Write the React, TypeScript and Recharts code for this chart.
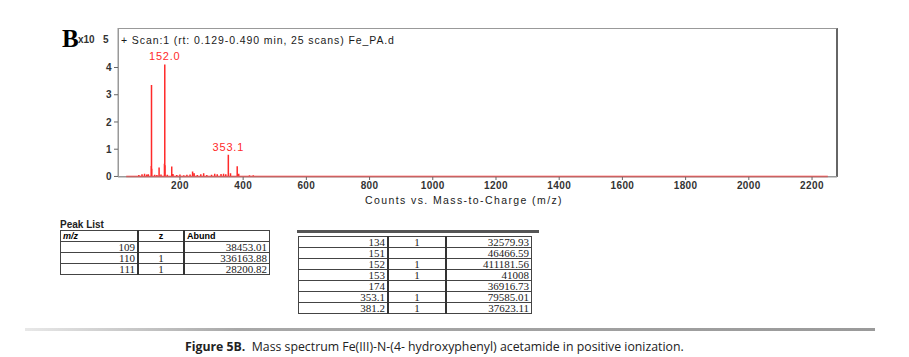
import { ComposedChart, Line, XAxis, YAxis, ReferenceDot } from 'recharts';

// peak positions (m/z) and abundances (x10^5 counts)
const peakMz = [60, 70, 80, 88, 95, 100, 109, 110, 111, 120, 127, 134, 140, 151, 152, 153, 160, 174, 178, 190, 200, 212, 222, 232, 240, 245, 255, 266, 275, 285, 300, 310, 318, 330, 338, 345, 353.1, 360, 381.2, 386, 420, 432, 445, 570, 690, 720];
const peakAbund = [0.03, 0.05, 0.08, 0.1, 0.07, 0.08, 0.3845, 3.3616, 0.282, 0.06, 0.05, 0.3258, 0.07, 0.4647, 4.1118, 0.4101, 0.06, 0.3692, 0.09, 0.05, 0.07, 0.04, 0.06, 0.07, 0.18, 0.12, 0.05, 0.08, 0.12, 0.05, 0.06, 0.1, 0.08, 0.09, 0.1, 0.08, 0.7959, 0.12, 0.3762, 0.1, 0.04, 0.04, 0.03, 0.03, 0.03, 0.02];
const mzEnd = 2250;

const labelledMz = [152, 353.1];
const labelledAbund = [4.1118, 0.7959];
const labelledText = ['152.0', '353.1'];

const xTicks = [200, 400, 600, 800, 1000, 1200, 1400, 1600, 1800, 2000, 2200];
const yTicks = [0, 1, 2, 3, 4];

const tableAMz = ['109', '110', '111'];
const tableAZ = ['', '1', '1'];
const tableAAbund = ['38453.01', '336163.88', '28200.82'];

const tableBMz = ['134', '151', '152', '153', '174', '353.1', '381.2'];
const tableBZ = ['1', '', '1', '1', '', '1', '1'];
const tableBAbund = ['32579.93', '46466.59', '411181.56', '41008', '36916.73', '79585.01', '37623.11'];

// stick spectrum: baseline -> peak top -> baseline for each peak
const stickData: { mz: number; ab: number }[] = [{ mz: 30, ab: 0 }];
peakMz.forEach((mz, i) => {
  stickData.push({ mz, ab: 0 });
  stickData.push({ mz, ab: peakAbund[i] });
  stickData.push({ mz, ab: 0 });
});
stickData.push({ mz: mzEnd, ab: 0 });

const RED = '#ff2a2a';
const SANS = 'Liberation Sans, Arial, sans-serif';
const tickStyle = { fontSize: 10, fill: '#333', fontWeight: 'bold' as const, fontFamily: SANS, letterSpacing: 0.4 };

const cell = (w: number, align: 'left' | 'right' | 'center', extra: any = {}) => ({
  width: w,
  textAlign: align,
  border: '1px solid #444',
  padding: '0 2px',
  lineHeight: '10px',
  height: 10,
  ...extra,
});

function PeakTable({ mz, z, ab, widths, header }: { mz: string[]; z: string[]; ab: string[]; widths: number[]; header: boolean }) {
  const numFont = { fontFamily: 'Liberation Serif, serif', fontSize: 11, color: '#222' };
  return (
    <table style={{ borderCollapse: 'collapse', border: '1.5px solid #444', tableLayout: 'fixed' }}>
      <tbody>
        {header && (
          <tr style={{ fontFamily: SANS, fontSize: 9, fontWeight: 'bold' }}>
            <td style={cell(widths[0], 'left', { fontStyle: 'italic', borderRight: '2px solid #333' })}>m/z</td>
            <td style={cell(widths[1], 'center', { borderRight: '2px solid #333' })}>z</td>
            <td style={cell(widths[2], 'left')}>Abund</td>
          </tr>
        )}
        {mz.map((m, i) => (
          <tr key={m} style={numFont}>
            <td style={cell(widths[0], 'right', { borderRight: '2px solid #333' })}>{m}</td>
            <td style={cell(widths[1], 'center', { borderRight: '2px solid #333' })}>{z[i]}</td>
            <td style={cell(widths[2], 'right')}>{ab[i]}</td>
          </tr>
        ))}
      </tbody>
    </table>
  );
}

export default function App() {
  return (
    <div style={{ position: 'absolute', left: 0, top: 0, width: 909, height: 357, background: '#fff', overflow: 'hidden' }}>
      {/* plot frame */}
      <div style={{ position: 'absolute', left: 118, top: 28, width: 717, height: 147, borderTop: '1px solid #999', borderLeft: '1px solid #999', borderRight: '2px solid #666', borderBottom: '1px solid #999' }} />
      <div style={{ position: 'absolute', left: 0, top: 0 }}>
        <ComposedChart width={909} height={215} data={stickData} margin={{ top: 28, right: 72, left: 88, bottom: 16 }}>
          <XAxis
            type="number"
            dataKey="mz"
            domain={[4, 2279]}
            ticks={xTicks}
            tick={tickStyle}
            tickSize={3}
            axisLine={{ stroke: '#999' }}
            tickLine={{ stroke: '#666' }}
            height={22}
          />
          <YAxis
            type="number"
            domain={[-0.02, 5.45]}
            ticks={yTicks}
            tick={tickStyle}
            tickSize={4}
            width={30}
            axisLine={{ stroke: '#999' }}
            tickLine={{ stroke: '#666' }}
          />
          <Line type="linear" dataKey="ab" stroke={RED} strokeWidth={1.5} dot={false} isAnimationActive={false} />
          {labelledMz.map((m, i) => (
            <ReferenceDot
              key={m}
              x={m}
              y={labelledAbund[i]}
              r={0}
              stroke="none"
              label={{ value: labelledText[i], position: 'top', offset: 4, fill: RED, fontSize: 11, fontFamily: SANS, letterSpacing: 0.8 }}
            />
          ))}
        </ComposedChart>
      </div>
      {/* scan title */}
      <div style={{ position: 'absolute', left: 121, top: 34, fontFamily: SANS, fontSize: 10.5, letterSpacing: 0.9, color: '#1a1a1a', whiteSpace: 'nowrap' }}>
        + Scan:1 (rt: 0.129-0.490 min, 25 scans) Fe_PA.d
      </div>
      {/* x10^5 */}
      <div style={{ position: 'absolute', left: 78, top: 34, fontFamily: SANS, fontSize: 10, fontWeight: 'bold', color: '#333' }}>
        x10
      </div>
      <div style={{ position: 'absolute', left: 103, top: 34, fontFamily: SANS, fontSize: 10, fontWeight: 'bold', color: '#333' }}>
        5
      </div>
      <div style={{ position: 'absolute', left: 62, top: 26, fontFamily: 'Liberation Serif, serif', fontSize: 25, fontWeight: 'bold', color: '#000', lineHeight: '26px' }}>
        B
      </div>
      {/* x axis title */}
      <div style={{ position: 'absolute', left: 365, top: 194, fontFamily: SANS, fontSize: 10.5, letterSpacing: 1.4, color: '#1a1a1a', whiteSpace: 'nowrap' }}>
        Counts vs. Mass-to-Charge (m/z)
      </div>
      {/* peak list tables */}
      <div style={{ position: 'absolute', left: 60, top: 219, fontFamily: SANS, fontSize: 10, fontWeight: 'bold', color: '#222' }}>
        Peak List
      </div>
      <div style={{ position: 'absolute', left: 60, top: 230 }}>
        <PeakTable mz={tableAMz} z={tableAZ} ab={tableAAbund} widths={[72, 40, 80]} header />
      </div>
      <div style={{ position: 'absolute', left: 297, top: 230, width: 242, height: 3, background: '#555' }} />
      <div style={{ position: 'absolute', left: 298, top: 236 }}>
        <PeakTable mz={tableBMz} z={tableBZ} ab={tableBAbund} widths={[84, 52, 80]} header={false} />
      </div>
      {/* separator */}
      <div style={{ position: 'absolute', left: 25, top: 328, width: 850, height: 3, background: 'linear-gradient(to right, #e8e8e8, #a8a8a8 25%, #9a9a9a)' }} />
      {/* caption */}
      <div style={{ position: 'absolute', left: 185, top: 338, fontFamily: '"Open Sans", "Noto Sans", sans-serif', fontSize: 12.3, color: '#222', whiteSpace: 'nowrap' }}>
        <b>Figure 5B.</b>&nbsp; Mass spectrum Fe(III)-N-(4- hydroxyphenyl) acetamide in positive ionization.
      </div>
    </div>
  );
}
